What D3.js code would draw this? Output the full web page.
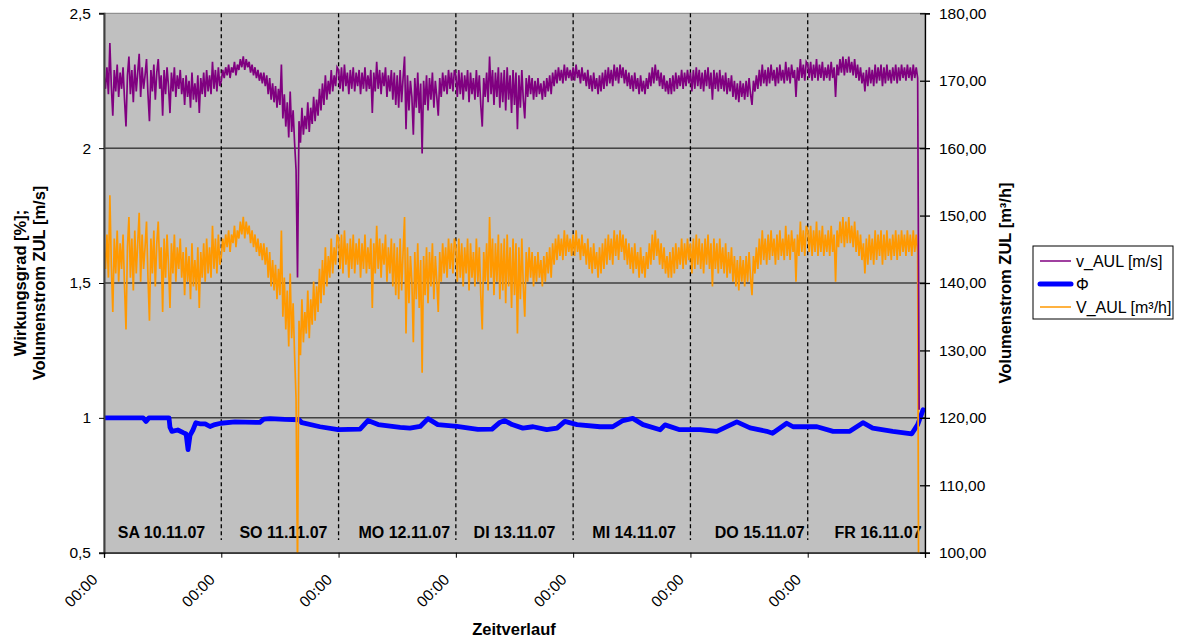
<!DOCTYPE html>
<html><head><meta charset="utf-8">
<script src="https://cdn.jsdelivr.net/npm/d3@7"></script>
<style>
html,body{margin:0;padding:0;background:#fff;}
text{font-family:"Liberation Sans",Arial,sans-serif;}
</style></head>
<body>
<svg id="chart" width="1189" height="640"></svg>
<script>
// ---------- DATA ----------
const startDate = new Date(2007, 10, 10, 0, 0);
const sampleMinutes = 18;               // sampling interval of v_AUL / V_AUL
const dayLabels = ["SA 10.11.07","SO 11.11.07","MO 12.11.07","DI 13.11.07","MI 14.11.07","DO 15.11.07","FR 16.11.07"];
const dayLabelPos = [0.49,1.53,2.56,3.5,4.52,5.59,6.6]; // in days from start
const leftTicks = [0.5,1,1.5,2,2.5];
const rightTicks = [100,110,120,130,140,150,160,170,180];

// v_AUL [m/s] (left axis)
const vAUL = [
2.27,2.22,2.30,2.20,2.39,2.23,2.12,2.29,2.21,2.31,2.19,2.28,2.22,2.30,2.18,2.08,2.27,2.34,2.20,2.29,2.17,2.31,2.21,2.28,2.35,2.19,2.30,2.22,2.27,2.33,2.20,2.10,2.29,2.21,2.31,2.18,2.28,2.33,2.22,2.27,
2.12,2.29,2.20,2.30,2.23,2.13,2.28,2.21,2.30,2.19,2.27,2.22,2.29,2.20,2.26,2.16,2.27,2.19,2.25,2.15,2.28,2.18,2.24,2.17,2.27,2.13,2.26,2.20,2.28,2.19,2.29,2.21,2.27,2.20,2.32,2.22,2.29,2.21,2.30,2.23,
2.25,2.29,2.26,2.30,2.27,2.31,2.26,2.30,2.28,2.32,2.27,2.31,2.29,2.33,2.30,2.34,2.29,2.33,2.30,2.32,
2.28,2.31,2.27,2.30,2.26,2.29,2.25,2.28,2.24,2.28,2.23,2.27,
2.20,2.26,2.18,2.24,2.17,2.23,2.15,2.22,2.16,2.31,
2.11,2.20,2.08,2.17,2.04,2.21,2.06,2.14,2.02,1.92,
1.52,
2.10,2.02,2.15,2.05,2.12,2.07,2.17,2.06,2.15,2.09,2.19,2.10,2.18,2.12,
2.22,2.14,2.24,2.16,2.27,2.18,2.25,2.20,2.29,2.21,2.27,2.23,2.30,
2.29,2.22,2.30,2.21,2.31,2.23,2.28,2.20,2.29,2.22,2.30,2.21,2.28,2.23,2.29,2.20,2.28,2.22,2.30,2.21,
2.27,2.22,2.29,2.13,2.28,2.21,2.32,2.22,2.29,2.20,2.28,2.23,2.30,2.19,2.27,2.21,2.29,2.18,2.28,2.16,
2.27,2.15,2.29,2.17,2.26,2.34,2.07,2.27,2.14,2.25,2.19,2.05,2.26,2.15,2.28,2.13,2.24,1.98,2.25,2.16,
2.27,2.14,2.26,2.18,2.28,2.15,2.25,2.19,2.12,2.26,2.19,2.28,2.21,2.27,2.20,2.29,2.22,2.28,2.21,2.29,
2.27,2.19,2.29,2.20,2.28,2.18,2.27,2.21,2.29,2.17,2.28,2.20,2.26,2.18,2.29,2.19,2.27,2.16,2.08,2.26,
2.19,2.28,2.17,2.34,2.20,2.29,2.16,2.28,2.19,2.30,2.15,2.28,2.17,2.29,2.14,2.30,2.18,2.27,2.13,2.29,
2.16,2.28,2.07,2.27,2.15,2.29,2.18,2.11,2.26,2.19,2.27,2.20,2.26,2.18,2.25,2.19,2.26,2.20,2.24,2.18,
2.25,2.19,2.26,2.21,2.27,2.20,2.28,2.23,2.29,2.24,2.30,2.25,2.29,2.24,2.31,2.25,2.30,2.26,2.29,2.25,
2.30,2.25,2.31,2.26,2.29,2.24,2.30,2.25,2.28,2.23,2.29,2.22,2.27,2.21,2.28,2.22,2.26,2.20,2.27,2.21,
2.28,2.22,2.29,2.23,2.30,2.24,2.29,2.23,2.31,2.25,2.30,2.24,2.31,2.26,2.30,2.24,2.29,2.23,2.28,2.22,
2.27,2.21,2.28,2.22,2.26,2.20,2.27,2.21,2.25,2.20,2.26,2.22,2.28,2.23,2.30,2.24,2.31,2.25,2.29,2.23,
2.28,2.22,2.27,2.21,2.25,2.20,2.26,2.20,2.27,2.21,2.28,2.22,2.27,2.23,2.29,2.22,2.28,2.23,2.29,2.24,
2.28,2.21,2.29,2.22,2.30,2.23,2.29,2.22,2.28,2.21,2.29,2.23,2.30,2.22,2.28,2.18,2.29,2.22,2.28,2.21,
2.29,2.22,2.27,2.21,2.28,2.20,2.26,2.21,2.27,2.19,2.25,2.18,2.24,2.17,2.25,2.19,2.24,2.18,2.25,2.19,
2.26,2.20,2.16,2.25,2.21,2.27,2.22,2.29,2.23,2.31,2.24,2.29,2.23,2.30,2.24,2.31,2.25,2.29,2.23,2.30,
2.24,2.31,2.25,2.29,2.24,2.32,2.25,2.30,2.24,2.31,2.26,2.29,2.19,2.30,2.25,2.33,2.26,2.31,2.25,2.32,
2.31,2.26,2.32,2.25,2.31,2.26,2.33,2.25,2.31,2.26,2.32,2.25,2.30,2.26,2.31,2.25,2.32,2.26,2.30,2.19,
2.31,2.27,2.33,2.28,2.34,2.27,2.33,2.28,2.34,2.28,2.32,2.27,2.33,2.26,2.31,2.25,2.30,2.24,2.28,2.21,
2.29,2.23,2.30,2.24,2.29,2.23,2.31,2.24,2.30,2.25,2.31,2.23,2.30,2.24,2.31,2.25,2.29,2.24,2.30,2.25,
2.31,2.24,2.30,2.25,2.31,2.26,2.30,2.25,2.31,2.26,2.30,2.25,2.31,2.26,2.30,2.26,1.03
];

// V_AUL [m³/h] (right axis)
const VAUL = [
145.3,142.1,147.2,140.8,153.0,142.7,135.7,146.6,141.4,147.8,140.2,145.9,142.1,147.2,139.5,133.1,145.3,149.8,140.8,146.6,138.9,147.8,141.4,145.9,150.4,140.2,147.2,142.1,145.3,149.1,140.8,134.4,146.6,141.4,147.8,139.5,145.9,149.1,142.1,145.3,
135.7,146.6,140.8,147.2,142.7,136.3,145.9,141.4,147.2,140.2,145.3,142.1,146.6,140.8,144.6,138.2,145.3,140.2,144.0,137.6,145.9,139.5,143.4,138.9,145.3,136.3,144.6,140.8,145.9,140.2,146.6,141.4,145.3,140.8,148.5,142.1,146.6,141.4,147.2,142.7,
144.0,146.6,144.6,147.2,145.3,147.8,144.6,147.2,145.9,148.5,145.3,147.8,146.6,149.1,147.2,149.8,146.6,149.1,147.2,148.5,
145.9,147.8,145.3,147.2,144.6,146.6,144.0,145.9,143.4,145.9,142.7,145.3,
140.8,144.6,139.5,143.4,138.9,142.7,137.6,142.1,138.2,147.8,
135.0,140.8,133.1,138.9,130.6,141.4,131.8,137.0,129.3,122.9,
97.3,
134.4,129.3,137.6,131.2,135.7,132.5,138.9,131.8,137.6,133.8,140.2,134.4,139.5,135.7,
142.1,137.0,143.4,138.2,145.3,139.5,144.0,140.8,146.6,141.4,145.3,142.7,147.2,
146.6,142.1,147.2,141.4,147.8,142.7,145.9,140.8,146.6,142.1,147.2,141.4,145.9,142.7,146.6,140.8,145.9,142.1,147.2,141.4,
145.3,142.1,146.6,136.3,145.9,141.4,148.5,142.1,146.6,140.8,145.9,142.7,147.2,140.2,145.3,141.4,146.6,139.5,145.9,138.2,
145.3,137.6,146.6,138.9,144.6,149.8,132.5,145.3,137.0,144.0,140.2,131.2,144.6,137.6,145.9,136.3,143.4,126.7,144.0,138.2,
145.3,137.0,144.6,139.5,145.9,137.6,144.0,140.2,135.7,144.6,140.2,145.9,141.4,145.3,140.8,146.6,142.1,145.9,141.4,146.6,
145.3,140.2,146.6,140.8,145.9,139.5,145.3,141.4,146.6,138.9,145.9,140.8,144.6,139.5,146.6,140.2,145.3,138.2,133.1,144.6,
140.2,145.9,138.9,149.8,140.8,146.6,138.2,145.9,140.2,147.2,137.6,145.9,138.9,146.6,137.0,147.2,139.5,145.3,136.3,146.6,
138.2,145.9,132.5,145.3,137.6,146.6,139.5,135.0,144.6,140.2,145.3,140.8,144.6,139.5,144.0,140.2,144.6,140.8,143.4,139.5,
144.0,140.2,144.6,141.4,145.3,140.8,145.9,142.7,146.6,143.4,147.2,144.0,146.6,143.4,147.8,144.0,147.2,144.6,146.6,144.0,
147.2,144.0,147.8,144.6,146.6,143.4,147.2,144.0,145.9,142.7,146.6,142.1,145.3,141.4,145.9,142.1,144.6,140.8,145.3,141.4,
145.9,142.1,146.6,142.7,147.2,143.4,146.6,142.7,147.8,144.0,147.2,143.4,147.8,144.6,147.2,143.4,146.6,142.7,145.9,142.1,
145.3,141.4,145.9,142.1,144.6,140.8,145.3,141.4,144.0,140.8,144.6,142.1,145.9,142.7,147.2,143.4,147.8,144.0,146.6,142.7,
145.9,142.1,145.3,141.4,144.0,140.8,144.6,140.8,145.3,141.4,145.9,142.1,145.3,142.7,146.6,142.1,145.9,142.7,146.6,143.4,
145.9,141.4,146.6,142.1,147.2,142.7,146.6,142.1,145.9,141.4,146.6,142.7,147.2,142.1,145.9,139.5,146.6,142.1,145.9,141.4,
146.6,142.1,145.3,141.4,145.9,140.8,144.6,141.4,145.3,140.2,144.0,139.5,143.4,138.9,144.0,140.2,143.4,139.5,144.0,140.2,
144.6,140.8,138.2,144.0,141.4,145.3,142.1,146.6,142.7,147.8,143.4,146.6,142.7,147.2,143.4,147.8,144.0,146.6,142.7,147.2,
143.4,147.8,144.0,146.6,143.4,148.5,144.0,147.2,143.4,147.8,144.6,146.6,140.2,147.2,144.0,149.1,144.6,147.8,144.0,148.5,
147.8,144.6,148.5,144.0,147.8,144.6,149.1,144.0,147.8,144.6,148.5,144.0,147.2,144.6,147.8,144.0,148.5,144.6,147.2,140.2,
147.8,145.3,149.1,145.9,149.8,145.3,149.1,145.9,149.8,145.9,148.5,145.3,149.1,144.6,147.8,144.0,147.2,143.4,145.9,141.4,
146.6,142.7,147.2,143.4,146.6,142.7,147.8,143.4,147.2,144.0,147.8,142.7,147.2,143.4,147.8,144.0,146.6,143.4,147.2,144.0,
147.8,143.4,147.2,144.0,147.8,144.6,147.2,144.0,147.8,144.6,147.2,144.0,147.8,144.6,147.2,144.6,65.9
];

// Φ (left axis), hours from start and values
const phiHours = [0,8.0,8.6,9.2,13.3,13.5,13.9,15.1,16.2,16.8,17.2,17.6,18.2,18.8,19.6,20.7,21.7,22.7,23.9,26.8,31.9,32.7,34.0,37.0,39.9,40.5,44.2,47.9,52.4,54.0,56.1,60.6,62.6,64.7,66.3,68.3,72.2,76.5,79.4,81.0,82.0,83.5,85.7,87.8,90.6,92.7,94.3,96.8,101.5,104.1,106.2,108.2,110.3,113.8,114.8,117.8,122.0,125.4,129.5,132.2,135.6,136.8,139.7,141.0,145.9,149.2,152.6,155.3,157.3,161.4,165.3,166.5,167.6];
const phiValues = [1.0,1.0,0.987,1.0,1.0,0.965,0.95,0.955,0.945,0.94,0.882,0.935,0.955,0.982,0.978,0.978,0.968,0.975,0.98,0.985,0.983,0.995,0.997,0.994,0.993,0.982,0.967,0.956,0.958,0.99,0.975,0.965,0.962,0.968,0.997,0.975,0.968,0.957,0.958,0.983,0.99,0.975,0.962,0.967,0.956,0.962,0.987,0.975,0.967,0.967,0.99,0.998,0.975,0.956,0.974,0.956,0.956,0.95,0.985,0.963,0.95,0.943,0.98,0.967,0.967,0.95,0.95,0.982,0.962,0.95,0.941,0.975,1.03];

const legendItems = [
  {label:"v_AUL [m/s]", color:"#800080", width:1.5},
  {label:"Φ", color:"#0000FF", width:5},
  {label:"V_AUL [m³/h]", color:"#FF9900", width:1.5}
];

// ---------- CHART ----------
const svg = d3.select("#chart");
const L = 104, R = 925, T = 13.3, B = 552.7;
const endDate = d3.timeDay.offset(startDate, 7);
const x = d3.scaleTime().domain([startDate, endDate]).range([L, R]);
const yL = d3.scaleLinear().domain([0.5, 2.5]).range([B, T]);
const yR = d3.scaleLinear().domain([100, 180]).range([B, T]);
const fmtNum = d => String(d).replace(".", ",");
const fmtR = d => d3.format(".2f")(d).replace(".", ",");

const tAt = i => d3.timeMinute.offset(startDate, i * sampleMinutes);
const tH = h => new Date(startDate.getTime() + h * 3600000);

// plot area
svg.append("rect").attr("x", L).attr("y", T).attr("width", R - L).attr("height", B - T)
  .attr("fill", "#C0C0C0").attr("stroke", "#808080").attr("stroke-width", 1);

svg.append("defs").append("clipPath").attr("id", "clip")
  .append("rect").attr("x", L).attr("y", T).attr("width", R - L).attr("height", B - T);

// gridlines
svg.append("g").selectAll("line").data([1, 1.5, 2]).join("line")
  .attr("x1", L).attr("x2", R).attr("y1", d => yL(d)).attr("y2", d => yL(d))
  .attr("stroke", "#000").attr("stroke-width", 1);

// day separators
const days = d3.range(1, 7).map(d => d3.timeDay.offset(startDate, d));
svg.append("g").selectAll("line").data(days).join("line")
  .attr("x1", d => x(d)).attr("x2", d => x(d)).attr("y1", T).attr("y2", 540)
  .attr("stroke", "#000").attr("stroke-width", 1.3).attr("stroke-dasharray", "4,3");

// day labels
svg.append("g").selectAll("text").data(dayLabels).join("text")
  .attr("x", (d, i) => x(new Date(startDate.getTime() + dayLabelPos[i] * 86400000)))
  .attr("y", 537.5).attr("text-anchor", "middle")
  .attr("font-size", "16px").attr("font-weight", "bold").attr("fill", "#000").text(d => d);

const lines = svg.append("g").attr("clip-path", "url(#clip)");
// Φ
lines.append("path").datum(phiHours.map((h, i) => [tH(h), phiValues[i]]))
  .attr("fill", "none").attr("stroke", "#0000FF").attr("stroke-width", 4.8)
  .attr("stroke-linejoin", "round").attr("stroke-linecap", "round")
  .attr("d", d3.line().x(d => x(d[0])).y(d => yL(d[1])));
// V_AUL
lines.append("path").datum(VAUL.map((v, i) => [tAt(i), v]))
  .attr("fill", "none").attr("stroke", "#FF9900").attr("stroke-width", 1.7)
  .attr("d", d3.line().x(d => x(d[0])).y(d => yR(d[1])));
// v_AUL
lines.append("path").datum(vAUL.map((v, i) => [tAt(i), v]))
  .attr("fill", "none").attr("stroke", "#800080").attr("stroke-width", 1.7)
  .attr("d", d3.line().x(d => x(d[0])).y(d => yL(d[1])));

// left axis
const gL = svg.append("g").attr("transform", `translate(${L},0)`)
  .call(d3.axisLeft(yL).tickValues(leftTicks).tickFormat(fmtNum).tickSize(5).tickPadding(8));
gL.select(".domain").attr("stroke", "#404040").attr("stroke-width", 2);
gL.selectAll("text").attr("font-size", "15.5px").attr("fill", "#000").attr("font-family", "Liberation Sans, Arial, sans-serif");

// right axis
const gR = svg.append("g").attr("transform", `translate(${R},0)`)
  .call(d3.axisRight(yR).tickValues(rightTicks).tickFormat(fmtR).tickSize(5).tickPadding(9));
gR.select(".domain").attr("stroke", "#000").attr("stroke-width", 1.3);
gR.selectAll(".tick line").attr("x1", -5).attr("stroke-width", 1.3);
gR.selectAll("text").attr("font-size", "15.5px").attr("fill", "#000").attr("font-family", "Liberation Sans, Arial, sans-serif");

// bottom axis
const gB = svg.append("g").attr("transform", `translate(0,${B})`)
  .call(d3.axisBottom(x).ticks(d3.timeDay.every(1)).tickFormat(d => +d < +endDate ? d3.timeFormat("%H:%M")(d) : "").tickSize(5));
gB.select(".domain").attr("stroke", "#000").attr("stroke-width", 1.3);
gB.selectAll("text").attr("font-size", "15.5px").attr("fill", "#000")
  .attr("font-family", "Liberation Sans, Arial, sans-serif")
  .attr("text-anchor", "end").attr("x", 0).attr("y", 0).attr("dy", 0)
  .attr("transform", "translate(-6,28) rotate(-45)");

// axis titles
svg.append("text").attr("transform", "translate(26,283) rotate(-90)").attr("text-anchor", "middle")
  .attr("font-size", "16.5px").attr("font-weight", "bold").text("Wirkungsgrad [%];");
svg.append("text").attr("transform", "translate(45,283) rotate(-90)").attr("text-anchor", "middle")
  .attr("font-size", "16.5px").attr("font-weight", "bold").text("Volumenstrom ZUL [m/s]");
svg.append("text").attr("transform", "translate(1011,283) rotate(-90)").attr("text-anchor", "middle")
  .attr("font-size", "16.5px").attr("font-weight", "bold").text("Volumenstrom ZUL [m³/h]");
svg.append("text").attr("x", 514).attr("y", 635).attr("text-anchor", "middle")
  .attr("font-size", "16.5px").attr("font-weight", "bold").text("Zeitverlauf");

// legend
const lg = svg.append("g");
lg.append("rect").attr("x", 1033).attr("y", 246).attr("width", 140).attr("height", 73)
  .attr("fill", "#fff").attr("stroke", "#000").attr("stroke-width", 1);
const rows = lg.selectAll("g").data(legendItems).join("g")
  .attr("transform", (d, i) => `translate(0,${261 + i * 23})`);
rows.append("line").attr("x1", 1040).attr("x2", 1071).attr("y1", 0).attr("y2", 0)
  .attr("stroke", d => d.color).attr("stroke-width", d => d.width).attr("stroke-linecap", d => d.width > 3 ? "round" : "butt");
rows.append("text").attr("x", 1076).attr("y", 0).attr("dy", "0.36em")
  .attr("font-size", "16px").text(d => d.label);
</script>
</body></html>
